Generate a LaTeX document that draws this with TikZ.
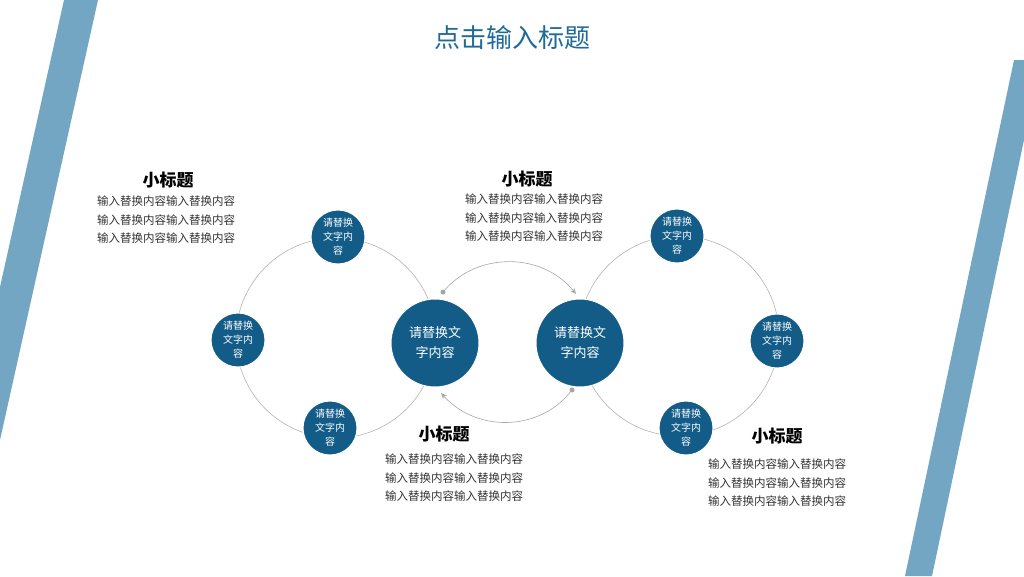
\documentclass[tikz,border=0pt]{standalone}
\usepackage{fontspec}
\setmainfont{Noto Sans CJK SC}
\usetikzlibrary{arrows.meta}
\definecolor{stripe}{HTML}{72A6C2}
\definecolor{dblue}{HTML}{125C87}
\definecolor{tblue}{HTML}{1F6A99}
\tikzset{
 big/.style={circle,fill=dblue,draw=white,line width=1pt,minimum size=88pt,inner sep=0pt,text=white,font=\fontsize{13}{20}\selectfont,align=center},
 small/.style={circle,fill=dblue,draw=white,line width=1pt,minimum size=54pt,inner sep=0pt,text=white,font=\fontsize{10}{14}\selectfont,align=center},
 head/.style={font=\fontsize{17}{20}\selectfont\bfseries,text=black},
 body/.style={font=\fontsize{11.5}{18.5}\selectfont,text=black!80,align=center},
 ring/.style={draw=black!30,line width=0.6pt},
 conn/.style={draw=black!35,line width=0.6pt,-{Stealth[length=6pt,width=5pt]}},
 dot/.style={circle,fill=black!35,inner sep=0pt,minimum size=5pt}
}
\begin{document}
\begin{tikzpicture}[x=1pt,y=-1pt]
\useasboundingbox (0,0) rectangle (1024,576);
\fill[stripe] (64,0) -- (98,0) -- (0,440) -- (0,287) -- cycle;
\fill[stripe] (1014,60) -- (1024,60) -- (1024,140) -- (932,576) -- (905,576) -- cycle;
\node[font=\fontsize{26}{30}\selectfont,text=tblue] (title) at (512,38) {点击输入标题};
\draw[ring] (336,338) circle (100);
\draw[ring] (679,336) circle (100);
\node[dot] (d1) at (443,292) {};
\node[dot] (d2) at (572,390) {};
\coordinate (e1) at (576,294);
\coordinate (e2) at (441,393);
\draw[conn] (d1) .. controls (478,252) and (542,252) .. (e1);
\draw[conn] (d2) .. controls (538,432) and (476,432) .. (e2);
\node[big] (b1) at (435,343) {请替换文\\字内容};
\node[big] (b2) at (580,343) {请替换文\\字内容};
\node[small] (s1) at (338,237) {请替换\\文字内\\容};
\node[small] (s2) at (238,340) {请替换\\文字内\\容};
\node[small] (s3) at (330,428) {请替换\\文字内\\容};
\node[small] (s4) at (677,236) {请替换\\文字内\\容};
\node[small] (s5) at (777,341) {请替换\\文字内\\容};
\node[small] (s6) at (686,428) {请替换\\文字内\\容};
\node[head] (h1) at (168,180) {小标题};
\node[body] (t1) at (166,220) {输入替换内容输入替换内容\\输入替换内容输入替换内容\\输入替换内容输入替换内容};
\node[head] (h2) at (527,179) {小标题};
\node[body] (t2) at (534,218) {输入替换内容输入替换内容\\输入替换内容输入替换内容\\输入替换内容输入替换内容};
\node[head] (h3) at (444,434) {小标题};
\node[body] (t3) at (454,478) {输入替换内容输入替换内容\\输入替换内容输入替换内容\\输入替换内容输入替换内容};
\node[head] (h4) at (777,436) {小标题};
\node[body] (t4) at (777,483) {输入替换内容输入替换内容\\输入替换内容输入替换内容\\输入替换内容输入替换内容};
\end{tikzpicture}
\end{document}
